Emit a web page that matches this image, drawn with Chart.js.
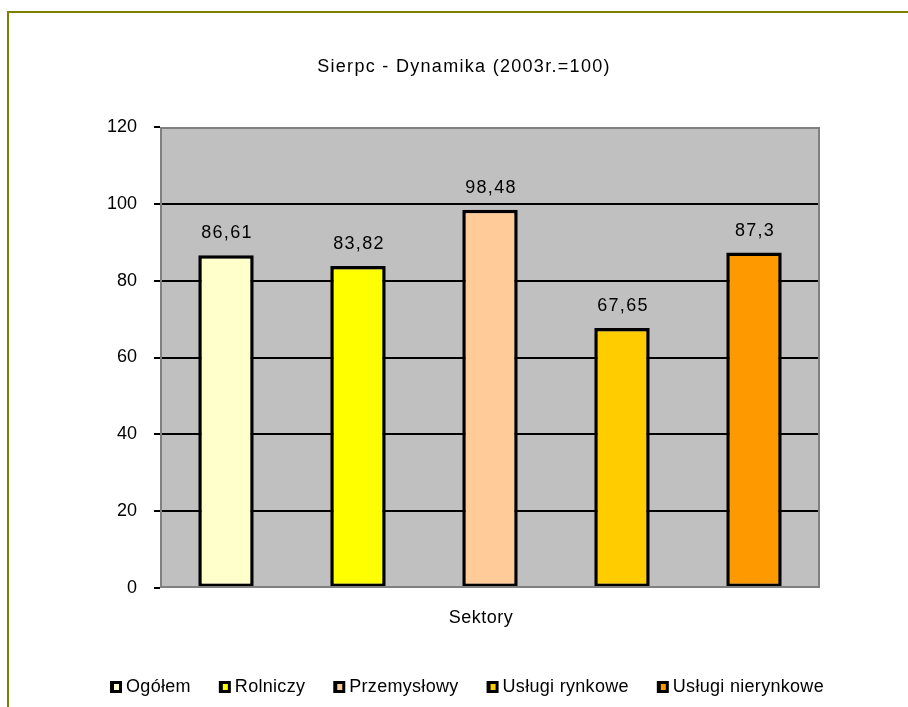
<!DOCTYPE html>
<html>
<head>
<meta charset="utf-8">
<script src="https://cdn.jsdelivr.net/npm/chart.js@4"></script>
<style>
  html, body { margin: 0; padding: 0; background: #fff; }
  #wykres { display: block; }
</style>
</head>
<body>
<canvas id="wykres" width="908" height="707"></canvas>
<script>
// dane z wykresu
const tytul = 'Sierpc - Dynamika (2003r.=100)';
const osX = 'Sektory';
const sektory = ['Ogółem', 'Rolniczy', 'Przemysłowy', 'Usługi rynkowe', 'Usługi nierynkowe'];
const wartosci = [86.61, 83.82, 98.48, 67.65, 87.3];
const kolory = ['#FFFFCC', '#FFFF00', '#FFCC99', '#FFCC00', '#FF9900'];
const osYTicks = [0, 20, 40, 60, 80, 100, 120];

const FONT = '"Liberation Sans", Arial, sans-serif';

// tlo, ramki i teksty rysowane recznie (jak w Excelu)
const excelStyl = {
  id: 'excelStyl',
  beforeDraw(chart) {
    const c = chart.ctx;
    const a = chart.chartArea;
    c.save();
    c.fillStyle = '#fff';
    c.fillRect(0, 0, chart.width, chart.height);
    // ramka zewnetrzna
    c.fillStyle = '#808000';
    c.fillRect(7, 11, chart.width, 2);
    c.fillRect(7, 11, 2, chart.height);
    // tlo wykresu
    c.fillStyle = '#C0C0C0';
    c.fillRect(a.left, a.top, a.right - a.left, a.bottom - a.top);
    c.restore();
  },
  afterDraw(chart) {
    const c = chart.ctx;
    const a = chart.chartArea;
    c.save();
    c.strokeStyle = '#808080';
    c.lineWidth = 2;
    c.strokeRect(a.left + 1, a.top + 1, a.right - a.left - 2, a.bottom - a.top - 2);

    c.fillStyle = '#000';
    c.textBaseline = 'middle';
    c.textAlign = 'center';
    c.font = '18px ' + FONT;
    c.letterSpacing = '1.3px';
    c.fillText(tytul, 464, 67);
    c.letterSpacing = '0.5px';
    c.fillText(osX, 481, 618);

    // etykiety danych
    c.letterSpacing = '1.3px';
    chart.data.datasets.forEach((ds, i) => {
      const bar = chart.getDatasetMeta(i).data[0];
      c.fillText(String(ds.data[0]).replace('.', ','), bar.x + 1, bar.y - 22);
    });

    // legenda
    c.letterSpacing = '0.3px';
    c.textAlign = 'left';
    const gap = 28, box = 12;
    const szer = sektory.map(s => c.measureText(s).width);
    const razem = szer.reduce((s, w) => s + w + box + 4, 0) + gap * (sektory.length - 1);
    let x = 467 - razem / 2;
    const y = 687;
    sektory.forEach((s, i) => {
      c.fillStyle = '#000';
      c.fillRect(x, y - 6, box, box);
      c.fillStyle = kolory[i];
      c.fillRect(x + 4, y - 3, box - 7, box - 6);
      c.fillStyle = '#000';
      c.fillText(s, x + box + 4, y);
      x += box + 4 + szer[i] + gap;
    });
    c.restore();
  }
};

new Chart(document.getElementById('wykres'), {
  type: 'bar',
  data: {
    labels: [osX],
    datasets: sektory.map((s, i) => ({
      label: s,
      data: [wartosci[i]],
      backgroundColor: kolory[i],
      borderColor: '#000',
      borderWidth: 3.5,
      borderSkipped: false,
      categoryPercentage: 1.0,
      barPercentage: 0.42
    }))
  },
  options: {
    responsive: false,
    animation: false,
    layout: { padding: { left: 8, right: 88, top: 127, bottom: 0 } },
    plugins: {
      legend: { display: false },
      title: { display: false },
      tooltip: { enabled: false }
    },
    scales: {
      x: {
        ticks: { display: false },
        grid: { display: false },
        border: { display: false },
        afterFit(scale) { scale.height = 119; }
      },
      y: {
        min: 0,
        max: 120,
        afterBuildTicks(scale) { scale.ticks = osYTicks.map(v => ({ value: v })); },
        ticks: {
          padding: 17,
          color: '#000',
          font: { family: FONT, size: 18 }
        },
        grid: {
          color: ctx => (ctx.tick && (ctx.tick.value === 0 || ctx.tick.value === 120)) ? 'rgba(0,0,0,0)' : '#000',
          lineWidth: 2,
          tickColor: '#000',
          tickLength: 6,
          tickWidth: 2
        },
        border: { display: false },
        afterFit(scale) { scale.width = 152; }
      }
    }
  },
  plugins: [excelStyl]
});
</script>
</body>
</html>
